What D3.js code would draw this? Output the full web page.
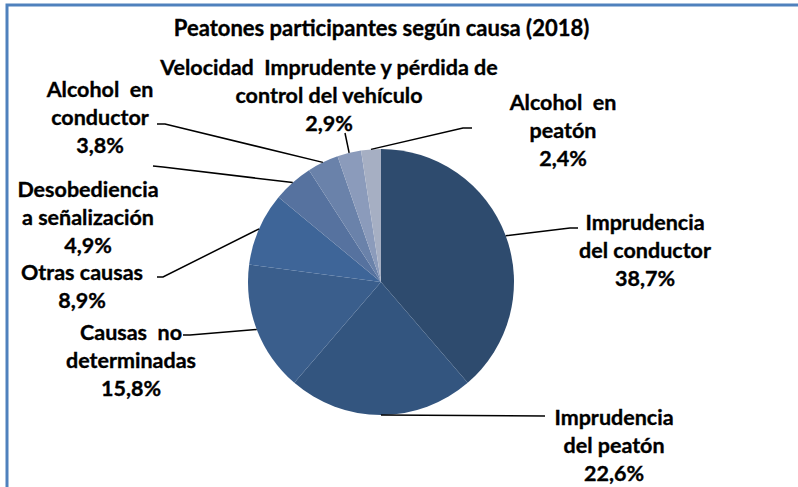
<!DOCTYPE html>
<html><head><meta charset="utf-8">
<script src="https://cdn.jsdelivr.net/npm/d3@7"></script>
<style>
html,body{margin:0;padding:0;background:#fff;}
svg text{font-family:Lato, "DejaVu Sans", sans-serif;font-weight:700;fill:#000;stroke:#000;stroke-width:0.35px;}
</style></head>
<body><svg id="c" width="798" height="487"></svg>
<script>
const title = "Peatones participantes según causa (2018)";
const categories = ["Imprudencia del conductor","Imprudencia del peatón","Causas no determinadas","Otras causas","Desobediencia a señalización","Alcohol en conductor","Velocidad Imprudente y pérdida de control del vehículo","Alcohol en peatón"];
const values = [38.7, 22.6, 15.8, 8.9, 4.9, 3.8, 2.9, 2.4];
const labelLines = [
  ["Imprudencia","del conductor"],
  ["Imprudencia","del peatón"],
  ["Causas  no","determinadas"],
  ["Otras causas"],
  ["Desobediencia","a señalización"],
  ["Alcohol  en","conductor"],
  ["Velocidad  Imprudente y pérdida de","control del vehículo"],
  ["Alcohol  en","peatón"]
];
const colors = ["#2E4B6E","#33557F","#3A5E8C","#3E6598","#56729F","#6A82AA","#8B9BBB","#A6AFC3"];

// layout (not data)
const cx = 381, cy = 282, R = 133;
const titleSize = 22, fontSize = 21.5, lineH = 27.8;
const layout = [
  {x:645, y:230, elbow:[570,228], end:[578,228]},
  {x:614, y:425, elbow:[545,416], end:[545,416]},
  {x:131, y:340, elbow:[190,335], end:[183,335]},
  {x:82,  y:280, elbow:[163,277], end:[157,277]},
  {x:88,  y:197, elbow:[163,167], end:[153,166]},
  {x:100, y:97,  elbow:[165,124], end:[157,124]},
  {x:329, y:75,  elbow:[345,133], end:[345,133]},
  {x:563, y:110, elbow:[463,128], end:[472,128]}
];

const svg = d3.select("#c");
svg.append("rect").attr("x",7).attr("y",5).attr("width",820).attr("height",520)
  .attr("fill","none").attr("stroke","#4F81BD").attr("stroke-width",3);

svg.append("text").attr("x",381.5).attr("y",36).attr("text-anchor","middle")
  .attr("font-size",titleSize).text(title);

const pie = d3.pie().sort(null).value(d=>d);
const arcs = pie(values);
const arc = d3.arc().innerRadius(0).outerRadius(R);
const g = svg.append("g").attr("transform",`translate(${cx},${cy})`);
g.selectAll("path").data(arcs).enter().append("path")
  .attr("d",arc).attr("fill",(d,i)=>colors[i]);

const fmt = v => d3.format(".1f")(v).replace(".",",") + "%";

arcs.forEach((a,i)=>{
  const mid = (a.startAngle + a.endAngle)/2;
  const px = cx + R*Math.sin(mid), py = cy - R*Math.cos(mid);
  const L = layout[i];
  svg.append("polyline")
    .attr("points",[[px,py],L.elbow,L.end].map(p=>p.join(",")).join(" "))
    .attr("fill","none").attr("stroke","#000").attr("stroke-width",1.5);
  const lines = labelLines[i].concat([fmt(values[i])]);
  const t = svg.append("text").attr("text-anchor","middle").attr("font-size",fontSize);
  lines.forEach((ln,k)=>{
    t.append("tspan").attr("x",L.x).attr("y",L.y + k*lineH).attr("xml:space","preserve").text(ln);
  });
});
</script></body></html>
